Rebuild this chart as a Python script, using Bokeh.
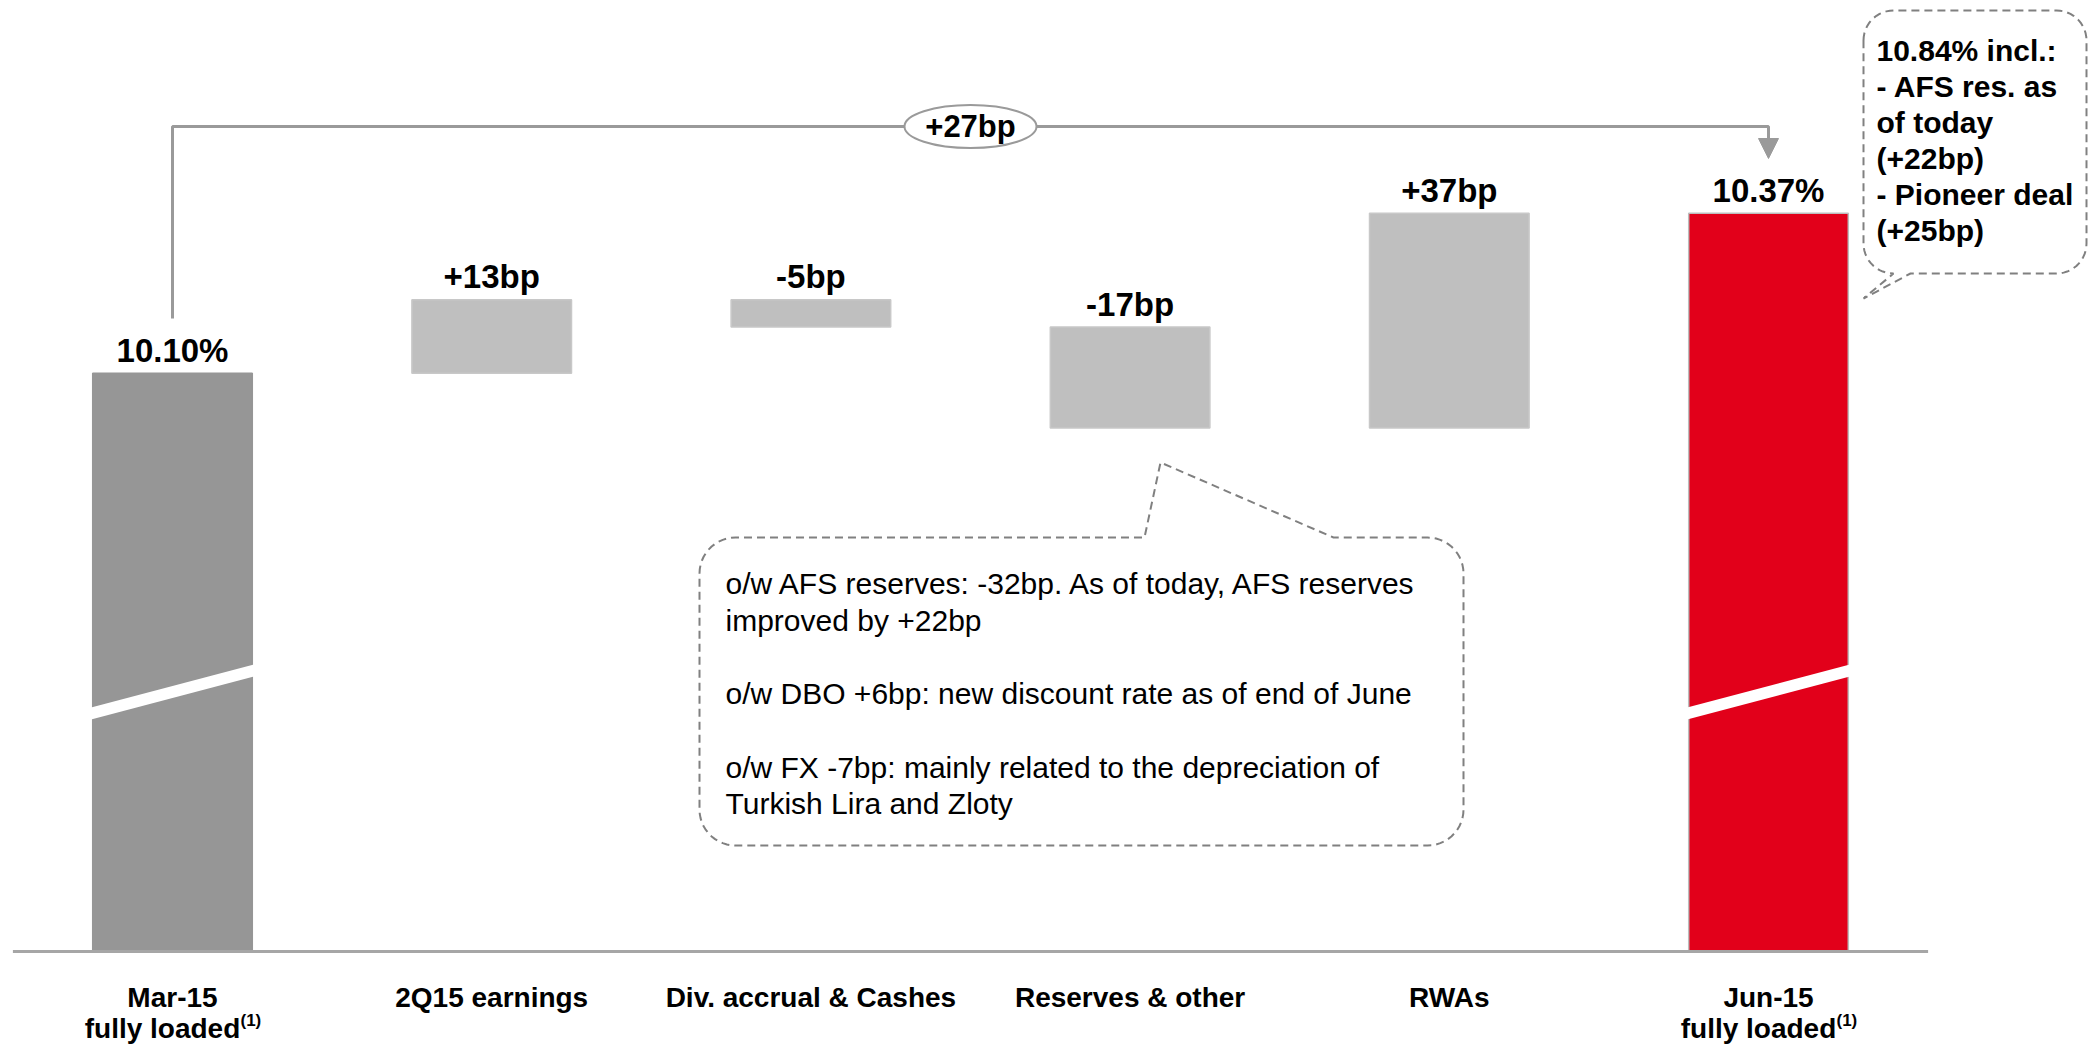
import numpy as np
from bokeh.plotting import figure
from bokeh.models import Arrow, NormalHead
from bokeh.core.properties import value
from bokeh.embed import file_html
from bokeh.resources import INLINE

# ---------------- data ----------------
categories = ["Mar-15", "2Q15 earnings", "Div. accrual & Cashes", "Reserves & other", "RWAs", "Jun-15"]
sub_labels = ["fully loaded", "", "", "", "", "fully loaded"]
start_value = 10.10          # CET1 ratio Mar-15 (%)
end_value = 10.37            # CET1 ratio Jun-15 (%)
deltas_bp = [12.4, -4.6, -17.0, 36.2]
delta_labels = ["+13bp", "-5bp", "-17bp", "+37bp"]
total_labels = ["10.10%", "10.37%"]
axis_floor = 9.125           # broken axis: value at the baseline
note_left = ["o/w AFS reserves: -32bp. As of today, AFS reserves",
             "improved by +22bp", "",
             "o/w DBO +6bp: new discount rate as of end of June", "",
             "o/w FX -7bp: mainly related to the depreciation of",
             "Turkish Lira and Zloty"]
note_right = ["10.84% incl.:", "- AFS res. as", "of today", "(+22bp)", "- Pioneer deal", "(+25bp)"]

# ---------------- geometry helpers (canvas pixels -> data) ----------------
W, H = 2092, 1046
PX_X0, PX_UNIT = 172.0, 319.2      # canvas x of category 0, px per category
PX_Y0, PX_PCT = 951.0, 593.0       # canvas y of baseline, px per 1 %

def X(px):
    return (px - PX_X0) / PX_UNIT

def Y(py):
    return axis_floor + (PX_Y0 - py) / PX_PCT

def dy(px):
    return px / PX_PCT

FONT = value("Liberation Sans")

p = figure(width=W, height=H, x_range=(X(0), X(W)), y_range=(Y(H), Y(0)),
           output_backend="svg", toolbar_location=None, min_border=0)
p.axis.visible = False
p.grid.visible = False
p.outline_line_color = None
p.background_fill_color = "white"
p.border_fill_color = "white"

# ---------------- waterfall ----------------
xs = list(range(len(categories)))
bottoms, tops = [axis_floor], [start_value]
level = start_value
for d in deltas_bp:
    new = level + d / 100.0
    bottoms.append(min(level, new))
    tops.append(max(level, new))
    level = new
bottoms.append(axis_floor)
tops.append(end_value)

fill = ["#969696"] + ["#BFBFBF"] * len(deltas_bp) + ["#E2001A"]
edge = ["#969696"] + ["#C8C8C8"] * len(deltas_bp) + ["#BDBDBD"]
p.vbar(x=xs, width=0.5, bottom=bottoms, top=tops, fill_color=fill,
       line_color=edge, line_width=1.5)

# axis-break slashes on the two total bars
for i in (0, len(xs) - 1):
    p.patch([i - 0.255, i + 0.255, i + 0.255, i - 0.255],
            [Y(707), Y(664), Y(676), Y(719)], fill_color="white", line_color=None)

# baseline
p.segment(x0=[xs[0] - 0.5], y0=[axis_floor], x1=[xs[-1] + 0.5], y1=[axis_floor],
          line_color="#A6A6A6", line_width=3)

# value labels
bar_labels = [total_labels[0]] + delta_labels + [total_labels[1]]
p.text(x=xs, y=[t + dy(23) for t in tops], text=bar_labels, text_font=FONT,
       text_font_style="bold", text_font_size="33px", text_align="center",
       text_baseline="middle", text_color="black")

# category labels
p.text(x=xs, y=[Y(997)] * len(xs), text=categories, text_font=FONT,
       text_font_style="bold", text_font_size="28px", text_align="center",
       text_baseline="middle", text_color="black")
sub_x = [x for x, s in zip(xs, sub_labels) if s]
sub_t = [s for s in sub_labels if s]
p.text(x=sub_x, y=[Y(1028)] * len(sub_x), text=sub_t, text_font=FONT,
       text_font_style="bold", text_font_size="28px", text_align="center",
       text_baseline="middle", text_color="black", x_offset=-10)
p.text(x=sub_x, y=[Y(1020)] * len(sub_x), text=["(1)"] * len(sub_x), text_font=FONT,
       text_font_style="bold", text_font_size="17px", text_align="left",
       text_baseline="middle", text_color="black", x_offset=68)

# ---------------- bracket with net change ----------------
gray = "#9A9A9A"
yb = Y(126)
p.line([xs[0], xs[0], xs[-1], xs[-1]], [Y(318), yb, yb, Y(140)], line_color=gray,
       line_width=3)
p.add_layout(Arrow(end=NormalHead(size=20, fill_color=gray, line_color=gray),
                   x_start=xs[-1], y_start=Y(138), x_end=xs[-1], y_end=Y(158),
                   line_color=gray, line_width=3))
xm = (xs[0] + xs[-1]) / 2.0
p.ellipse(x=[xm], y=[yb], width=132 / PX_UNIT, height=43 / PX_PCT,
          fill_color="white", line_color=gray, line_width=2)
net_bp = round((end_value - start_value) * 100)
p.text(x=[xm], y=[yb], text=["%+dbp" % net_bp], text_font=FONT, text_font_style="bold",
       text_font_size="31px", text_align="center", text_baseline="middle",
       text_color="black")

# ---------------- dashed callouts ----------------
def callout(x0, y0, x1, y1, r, edge_side, xa, xb, tx, ty):
    pts = []
    def arc(cx, cy, a0, a1):
        for t in np.linspace(a0, a1, 14):
            pts.append((cx + r * np.cos(t), cy + r * np.sin(t)))
    arc(x0 + r, y0 + r, np.pi, 1.5 * np.pi)
    if edge_side == "top":
        pts += [(xa, y0), (tx, ty), (xb, y0)]
    arc(x1 - r, y0 + r, 1.5 * np.pi, 2 * np.pi)
    arc(x1 - r, y1 - r, 0, 0.5 * np.pi)
    if edge_side == "bottom":
        pts += [(xb, y1), (tx, ty), (xa, y1)]
    arc(x0 + r, y1 - r, 0.5 * np.pi, np.pi)
    pts.append(pts[0])
    return [X(a) for a, _ in pts], [Y(b) for _, b in pts]

cx, cy = callout(699, 537, 1463, 845, 36, "top", 1144, 1333, 1160, 462)
p.line(cx, cy, line_color="#808080", line_width=2, line_dash="8 5")
cx, cy = callout(1863, 10, 2086, 273, 30, "bottom", 1893, 1910, 1863, 298)
p.line(cx, cy, line_color="#808080", line_width=2, line_dash="8 5")

p.text(x=[X(725)] * len(note_left), y=[Y(583 + 36.7 * i) for i in range(len(note_left))],
       text=note_left, text_font=FONT, text_font_size="30px", text_align="left",
       text_baseline="middle", text_color="black")
p.text(x=[X(1876)] * len(note_right), y=[Y(50 + 36 * i) for i in range(len(note_right))],
       text=note_right, text_font=FONT, text_font_style="bold", text_font_size="30px",
       text_align="left", text_baseline="middle", text_color="black")

open("out.html", "w").write(file_html(p, INLINE))
